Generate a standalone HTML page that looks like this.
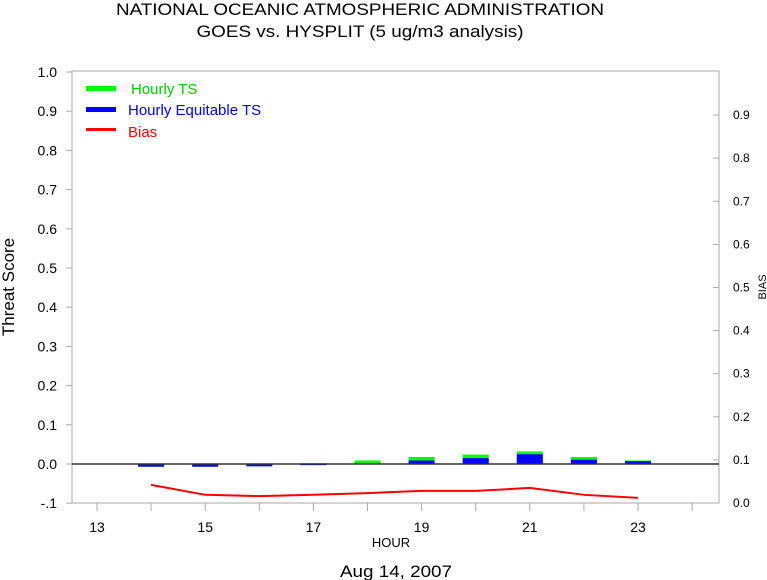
<!DOCTYPE html>
<html><head><meta charset="utf-8"><style>
body{margin:0;background:#fff}
svg{display:block;font-family:"Liberation Sans",sans-serif}
</style></head><body>
<svg id="chart" width="767" height="580">
<text x="360" y="15" font-size="17" text-anchor="middle" textLength="488" lengthAdjust="spacingAndGlyphs">NATIONAL OCEANIC ATMOSPHERIC ADMINISTRATION</text>
<text x="360" y="37" font-size="17" text-anchor="middle" textLength="327" lengthAdjust="spacingAndGlyphs">GOES vs. HYSPLIT  (5 ug/m3 analysis)</text>
<rect x="72" y="71" width="647" height="432" fill="none" stroke="#aaa"/>
<g id="yl"></g><g id="yr"></g><g id="xa"></g><g id="bars"></g><g id="bias"></g>
<text transform="translate(14,287) rotate(-90)" font-size="17" text-anchor="middle">Threat Score</text>
<text transform="translate(766,287) rotate(-90)" font-size="11" text-anchor="middle">BIAS</text>
<text x="391" y="547" font-size="13" text-anchor="middle">HOUR</text>
<text x="396" y="577" font-size="17" text-anchor="middle" textLength="112" lengthAdjust="spacingAndGlyphs">Aug 14, 2007</text>
<g>
<rect x="86" y="86" width="30" height="5" fill="#0f0"/>
<text x="131" y="94" font-size="15" fill="#0c0">Hourly TS</text>
<rect x="86" y="107" width="30" height="5" fill="#00f"/>
<text x="128" y="115" font-size="15" fill="#00f">Hourly Equitable TS</text>
<rect x="86" y="128" width="30" height="3" fill="#f00"/>
<text x="128" y="137" font-size="15" fill="#f00">Bias</text>
</g>
</svg>
<script>
const hours=[14,15,16,17,18,19,20,21,22,23];
const tsValues=[-0.004,-0.004,-0.003,0.002,0.009,0.018,0.024,0.032,0.018,0.009];
const etsValues=[-0.007,-0.007,-0.006,-0.003,0.002,0.009,0.015,0.025,0.011,0.007];
const biasValues=[0.042,0.019,0.016,0.019,0.023,0.028,0.028,0.035,0.019,0.012];
const leftTicks=["-.1","0.0","0.1","0.2","0.3","0.4","0.5","0.6","0.7","0.8","0.9","1.0"];
const rightTicks=["0.0","0.1","0.2","0.3","0.4","0.5","0.6","0.7","0.8","0.9"];
const xTickLabels=[13,15,17,19,21,23];
const NS="http://www.w3.org/2000/svg";
const x=h=>97+(h-13)*54.1;
const yL=v=>464-v*392;
const yR=v=>503-v*431;
function mk(p,t,a){const e=document.createElementNS(NS,t);for(const k in a)e.setAttribute(k,a[k]);document.getElementById(p).appendChild(e);return e;}
leftTicks.forEach((l,i)=>{const v=-0.1+i*0.1;const y=yL(v);
let t=mk('yl','line',{x1:66,x2:72,y1:y,y2:y,stroke:'#aaa'});


let s=mk('yl','text',{x:57,y:y+5,'font-size':14,'text-anchor':'end'});s.textContent=l;

});
rightTicks.forEach((l,i)=>{const y=yR(i*0.1);
let t=mk('yr','line',{x1:713,x2:719,y1:y,y2:y,stroke:'#aaa'});


let s=mk('yr','text',{x:733,y:y+4,'font-size':12});s.textContent=l;

});
for(let h=13;h<=24;h++){let t=mk('xa','line',{x1:x(h),x2:x(h),y1:503,y2:511,stroke:'#aaa'});

}
xTickLabels.forEach(h=>{let s=mk('xa','text',{x:x(h),y:532,'font-size':14,'text-anchor':'middle'});s.textContent=h;

});
hours.forEach((h,i)=>{
const y0=yL(0);let y1=yL(tsValues[i]);
let b=mk('bars','rect',{x:x(h)-13,y:Math.min(y0,y1),width:26,height:Math.max(1,Math.abs(y1-y0)),fill:'#0f0'});


let y2=yL(etsValues[i]);
let c=mk('bars','rect',{x:x(h)-13,y:Math.min(y0,y2),width:26,height:Math.max(1,Math.abs(y2-y0)),fill:'#00f'});

});
let z=mk('bars','line',{x1:72,x2:719,y1:yL(0),y2:yL(0),stroke:'#333','stroke-width':1.5});


let p=mk('bias','polyline',{points:hours.map((h,i)=>x(h)+','+yR(biasValues[i])).join(' '),fill:'none',stroke:'#f00','stroke-width':2});


</script>
</body></html>
